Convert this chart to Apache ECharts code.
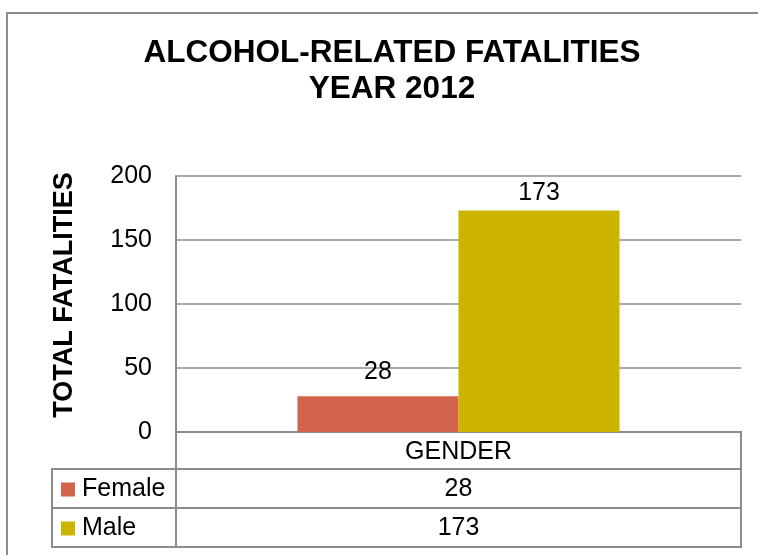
<!DOCTYPE html>
<html>
<head>
<meta charset="utf-8">
<script src="https://cdn.jsdelivr.net/npm/echarts@6/dist/echarts.min.js"></script>
<style>
  html, body { margin: 0; padding: 0; background: #fff; }
  #chart { width: 758px; height: 555px; }
</style>
</head>
<body>
<div id="chart"></div>
<script>
// Chart content
const titleLines = ['ALCOHOL-RELATED FATALITIES', 'YEAR 2012'];
const axisTitle = 'TOTAL FATALITIES';
const categories = ['GENDER'];
const seriesNames = ['Female', 'Male'];
const femaleValues = [28];
const maleValues = [173];
const yTicks = { min: 0, max: 200, interval: 50 };

const FONT = '"Liberation Sans", Arial, sans-serif';
const LINE = '#8c8c8c';
const COLORS = ['#d2644b', '#ccb400'];
const FS = 25;

const chart = echarts.init(document.getElementById('chart'), null, { renderer: 'canvas' });

// Plot rectangle
const G = { left: 176, top: 176, right: 741, bottom: 432 };
// Data table rows below the axis
const T = { left: 52, rows: [469, 508, 547] };

function hLine(x1, x2, y) {
  return { type: 'line', silent: true, shape: { x1, y1: y, x2, y2: y },
           style: { stroke: LINE, lineWidth: 2 } };
}
function vLine(x, y1, y2) {
  return { type: 'line', silent: true, shape: { x1: x, y1, x2: x, y2 },
           style: { stroke: LINE, lineWidth: 2 } };
}
function txt(x, y, text, extra) {
  return Object.assign({ type: 'text', x, y, silent: true,
    style: Object.assign({ text, fill: '#000', font: FS + 'px ' + FONT,
      align: 'center', verticalAlign: 'middle' }, extra || {}) });
}

const tableValues = [femaleValues, maleValues];
const graphics = [
  // outer frame
  hLine(6, 758, 13),
  vLine(7, 12, 555),
  // title
  txt(392, 53, titleLines[0], { font: 'bold 31.5px ' + FONT }),
  txt(392, 89, titleLines[1], { font: 'bold 31.5px ' + FONT }),
  // vertical axis title
  Object.assign(txt(65, 295, axisTitle, { font: 'bold 27px ' + FONT }), { rotation: Math.PI / 2 }),
  // data table grid
  hLine(T.left, G.right, T.rows[0]),
  hLine(T.left, G.right, T.rows[1]),
  hLine(T.left, G.right, T.rows[2]),
  vLine(T.left, T.rows[0] - 1, T.rows[2] + 1),
  vLine(G.left, G.bottom, T.rows[2] + 1),
  vLine(G.right, G.bottom - 1, T.rows[2] + 1)
];
// data table values, one row per series
tableValues.forEach((vals, r) => {
  const yc = (T.rows[r] + T.rows[r + 1]) / 2 + 1;
  vals.forEach((v, c) => {
    const cw = (G.right - G.left) / categories.length;
    graphics.push(txt(G.left + cw * (c + 0.5), yc, String(v)));
  });
});

const labelStyle = {
  show: true, position: 'top', color: '#000',
  fontSize: FS, fontFamily: FONT
};

chart.setOption({
  animation: false,
  backgroundColor: '#fff',
  grid: { left: G.left, top: G.top, right: 758 - G.right, bottom: 555 - G.bottom, containLabel: false },
  legend: {
    orient: 'vertical', left: 61, top: 477, padding: 0,
    itemWidth: 14, itemHeight: 14, itemGap: 14, icon: 'rect',
    textStyle: { fontSize: FS, fontFamily: FONT, color: '#000', lineHeight: 24, padding: [0, 0, 0, 2] },
    data: seriesNames
  },
  xAxis: {
    type: 'category', data: categories,
    axisLine: { lineStyle: { color: LINE, width: 2 } },
    axisTick: { show: false },
    axisLabel: { fontSize: FS, fontFamily: FONT, color: '#000', margin: 8 }
  },
  yAxis: {
    type: 'value', min: yTicks.min, max: yTicks.max, interval: yTicks.interval,
    axisLine: { show: true, lineStyle: { color: LINE, width: 2 } },
    axisTick: { show: false },
    axisLabel: { fontSize: FS, fontFamily: FONT, color: '#000', margin: 24 },
    splitLine: { lineStyle: { color: LINE, width: 1.5 } }
  },
  series: [
    {
      name: seriesNames[0], type: 'bar', data: femaleValues,
      barGap: '0%', barCategoryGap: '43%',
      itemStyle: { color: COLORS[0] },
      label: Object.assign({ distance: 12 }, labelStyle)
    },
    {
      name: seriesNames[1], type: 'bar', data: maleValues,
      barGap: '0%', barCategoryGap: '43%',
      itemStyle: { color: COLORS[1] },
      label: Object.assign({ distance: 5 }, labelStyle)
    }
  ],
  graphic: graphics
});
</script>
</body>
</html>
